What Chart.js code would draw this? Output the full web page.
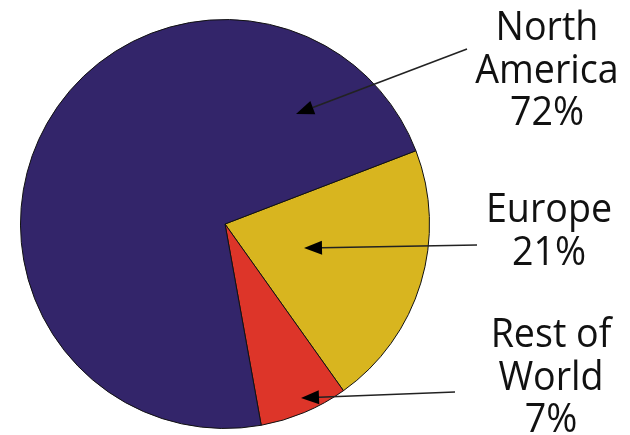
<!DOCTYPE html>
<html>
<head>
<meta charset="utf-8">
<script src="https://cdn.jsdelivr.net/npm/chart.js@4"></script>
<style>
html, body { margin: 0; padding: 0; background: #fff; }
#regionChart { display: block; }
</style>
</head>
<body>
<canvas id="regionChart" width="630" height="435"></canvas>
<script>
// Slices in drawing order (clockwise from the Europe / North America edge)
var regions = ['Europe', 'Rest of World', 'North America'];
var regionLines = [['Europe'], ['Rest of', 'World'], ['North', 'America']];
var shares = [21, 7, 72];
var sliceColors = ['#d8b51f', '#dd3529', '#33256a'];

// Callout text centre / first baseline and the arrow running back into the slice
var callouts = [
	{ x: 549, y: 222, from: [477, 245], tip: [304, 248] },
	{ x: 551, y: 347, from: [455, 392], tip: [301, 398] },
	{ x: 547, y: 40, from: [467, 49], tip: [296, 114] }
];

/**
 * Callouts plugin
 * Draws the label text on the right and an arrow into each slice
 */
var calloutPlugin = {
	id: 'callouts',
	afterDraw: function(chart) {
		var ctx = chart.ctx;
		ctx.save();

		callouts.forEach(function(c, i) {
			// arrow shaft
			var fx = c.from[0], fy = c.from[1];
			var tx = c.tip[0], ty = c.tip[1];
			var ang = Math.atan2(ty - fy, tx - fx);
			var headLen = 18, headHalf = 7;
			var bx = tx - Math.cos(ang) * headLen;
			var by = ty - Math.sin(ang) * headLen;

			ctx.strokeStyle = '#222';
			ctx.lineWidth = 1.6;
			ctx.beginPath();
			ctx.moveTo(fx, fy);
			ctx.lineTo(bx, by);
			ctx.stroke();

			// arrow head
			ctx.fillStyle = '#000';
			ctx.beginPath();
			ctx.moveTo(tx, ty);
			ctx.lineTo(bx + Math.sin(ang) * headHalf, by - Math.cos(ang) * headHalf);
			ctx.lineTo(bx - Math.sin(ang) * headHalf, by + Math.cos(ang) * headHalf);
			ctx.closePath();
			ctx.fill();

			// text
			var lines = regionLines[i].concat([shares[i] + '%']);
			ctx.fillStyle = '#111';
			ctx.font = '40px "Open Sans", "Noto Sans", sans-serif';
			ctx.textAlign = 'center';
			ctx.textBaseline = 'alphabetic';
			lines.forEach(function(line, k) {
				ctx.save();
				ctx.translate(c.x, c.y + k * 42.5);
				ctx.scale(0.94, 1);
				ctx.fillText(line, 0, 0);
				ctx.restore();
			});
		});

		ctx.restore();
	}
};

var ctx = document.getElementById('regionChart').getContext('2d');

new Chart(ctx, {
	type: 'pie',
	data: {
		labels: regions,
		datasets: [{
			data: shares,
			backgroundColor: sliceColors,
			borderColor: '#111',
			borderWidth: 1
		}]
	},
	options: {
		responsive: false,
		animation: false,
		rotation: 69,
		layout: {
			padding: { left: 20, right: 200, top: 19, bottom: 6 }
		},
		plugins: {
			legend: { display: false },
			tooltip: { enabled: false }
		}
	},
	plugins: [calloutPlugin]
});
</script>
</body>
</html>
